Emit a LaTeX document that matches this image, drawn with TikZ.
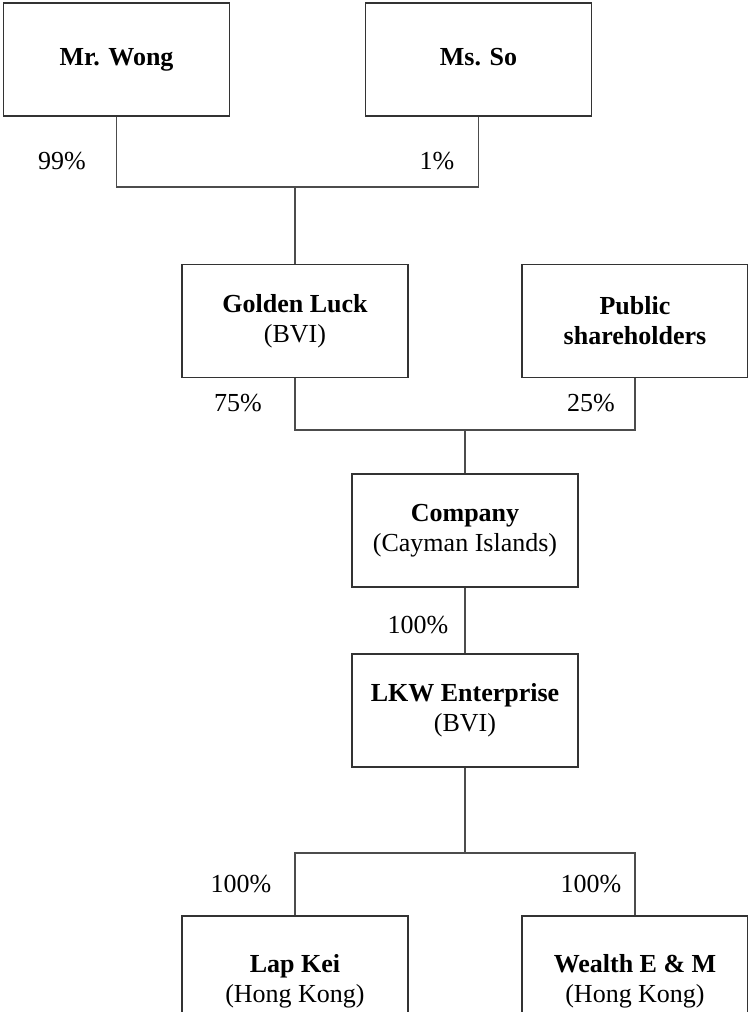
\documentclass[tikz,border=0pt]{standalone}
\usepackage{fontspec}
\setmainfont{Liberation Serif}
\usepackage{tikz}
\usetikzlibrary{positioning}
\tikzstyle{entity} = [draw=black!80, line width=0.7pt, rectangle, minimum width=113pt, minimum height=56.5pt, inner sep=0pt, align=center, font=\fontsize{13}{15}\selectfont]
\tikzstyle{pct} = [font=\fontsize{13}{15}\selectfont, inner sep=0pt]
\tikzstyle{conn} = [draw=black!70, line width=0.6pt]

\begin{document}
\begin{tikzpicture}[x=0.5pt, y=-0.5pt]
    \useasboundingbox (0,0) rectangle (748,1012);
    \clip (0,0) rectangle (748,1012);

    % Shareholders of Golden Luck
    \node[entity] (wong) at (116.5,59.5) {\strut\textbf{Mr. Wong}};
    \node[entity] (so) at (478.5,59.5) {\strut\textbf{Ms. So}};

    % Shareholders of the Company
    \node[entity] (golden) at (295,321) {\textbf{Golden Luck}\\(BVI)};
    \node[entity] (public) at (635,321) {\textbf{Public}\\\textbf{shareholders}};

    % Company and subsidiaries
    \node[entity] (company) at (465,530.5) {\textbf{Company}\\(Cayman Islands)};
    \node[entity] (lkw) at (465,710.5) {\textbf{LKW Enterprise}\\(BVI)};
    \node[entity, minimum height=65pt] (lapkei) at (295,981) {\textbf{Lap Kei}\\(Hong Kong)};
    \node[entity, minimum height=65pt] (wealth) at (635,981) {\textbf{Wealth E \& M}\\(Hong Kong)};

    % Junctions
    \coordinate (bartop) at (295,187);
    \coordinate (barmid) at (465,430);
    \coordinate (barlow) at (465,853);

    % Connectors
    \draw[conn] (wong.south) |- (bartop) -| (so.south);
    \draw[conn] (bartop) -- (golden.north);
    \draw[conn] (golden.south) |- (barmid) -| (public.south);
    \draw[conn] (barmid) -- (company.north);
    \draw[conn] (company.south) -- (lkw.north);
    \draw[conn] (lkw.south) -- (barlow);
    \draw[conn] (lapkei.north) |- (barlow) -| (wealth.north);

    % Percentages
    \node[pct] (pwong) at (62,161) {99\%};
    \node[pct] (pso) at (437,161) {1\%};
    \node[pct] (pgolden) at (238,403) {75\%};
    \node[pct] (ppublic) at (591,403) {25\%};
    \node[pct] (plkw) at (418,625) {100\%};
    \node[pct] (plapkei) at (241,884) {100\%};
    \node[pct] (pwealth) at (591,884) {100\%};
\end{tikzpicture}
\end{document}
